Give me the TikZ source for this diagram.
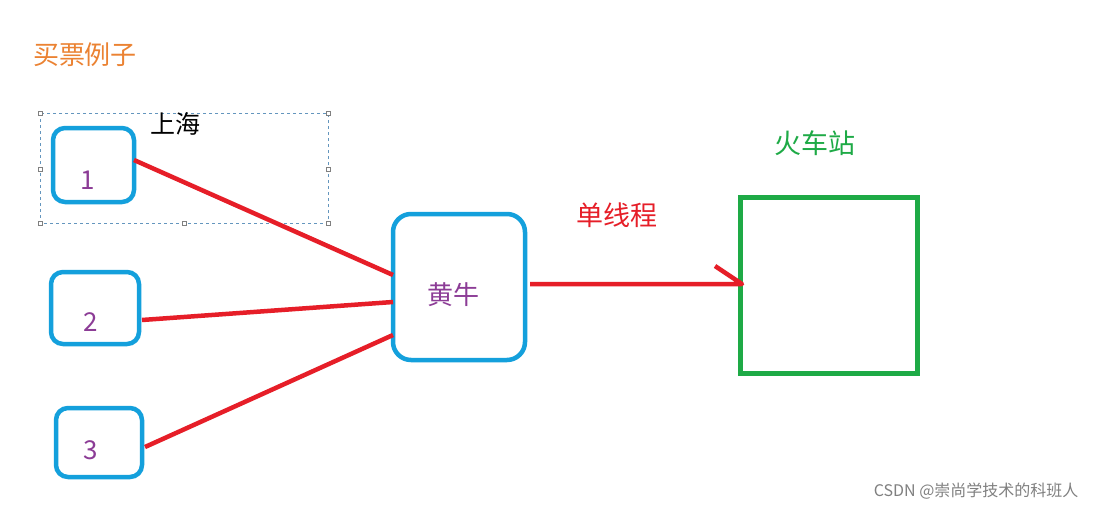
\documentclass[tikz,border=0pt]{standalone}
\usepackage{fontspec}
\setmainfont{Noto Sans CJK SC}
\begin{document}
\begin{tikzpicture}[x=1pt,y=-1pt,
  bluebox/.style={draw={rgb,255:red,20;green,160;blue,220},line width=4.5pt,rounded corners=12pt},
  redline/.style={draw={rgb,255:red,230;green,30;blue,40},line width=4.5pt},
  handle/.style={draw=gray,fill=white,minimum size=4pt,inner sep=0pt,line width=0.5pt},
  lbl/.style={text={rgb,255:red,140;green,60;blue,150},font=\fontsize{26}{30}\selectfont}]
\useasboundingbox[fill=white] (0,0) rectangle (1096,511);
\node[text={rgb,255:red,235;green,130;blue,50},font=\fontsize{26}{30}\selectfont] (title) at (85,55) {买票例子};
\draw[dashed,draw={rgb,255:red,100;green,150;blue,190},line width=0.6pt] (40,113) rectangle (328,223);
\foreach \p in {(40,113),(328,113),(40,169),(328,169),(40,223),(184,223),(328,223)} \node[handle] at \p {};
\node[font=\fontsize{25}{28}\selectfont] (sh) at (175,124) {上海};
\node[bluebox,minimum width=81pt,minimum height=74pt] (b1) at (93.5,165) {};
\node[lbl] at (88,180) {1};
\node[bluebox,minimum width=88pt,minimum height=72pt] (b2) at (95,308) {};
\node[lbl] at (91,322) {2};
\node[bluebox,minimum width=86pt,minimum height=69pt] (b3) at (99,442.5) {};
\node[lbl] at (91,450) {3};
\node[bluebox,minimum width=132pt,minimum height=146pt,rounded corners=18pt] (hn) at (459,287) {};
\node[lbl] at (453,295) {黄牛};
\node[draw={rgb,255:red,30;green,170;blue,70},line width=5pt,minimum width=177pt,minimum height=176pt] (st) at (828.5,285) {};
\node[text={rgb,255:red,30;green,170;blue,70},font=\fontsize{27}{30}\selectfont] at (815,143) {火车站};
\node[text={rgb,255:red,230;green,30;blue,40},font=\fontsize{27}{30}\selectfont] at (617,215) {单线程};
\coordinate (c1) at (134,160); \coordinate (h1) at (393,275);
\coordinate (c2) at (142,320); \coordinate (h2) at (393,302);
\coordinate (c3) at (145,447); \coordinate (h3) at (393,335);
\draw[redline] (c1) -- (h1);
\draw[redline] (c2) -- (h2);
\draw[redline] (c3) -- (h3);
\coordinate (a0) at (530,284); \coordinate (a1) at (742,284); \coordinate (a2) at (715,266);
\draw[redline,line join=round] (a0) -- (a1) -- (a2);
\node[text=gray,font=\fontsize{16}{18}\selectfont,anchor=east] (wm) at (1082,491) {CSDN @崇尚学技术的科班人};
\end{tikzpicture}
\end{document}
